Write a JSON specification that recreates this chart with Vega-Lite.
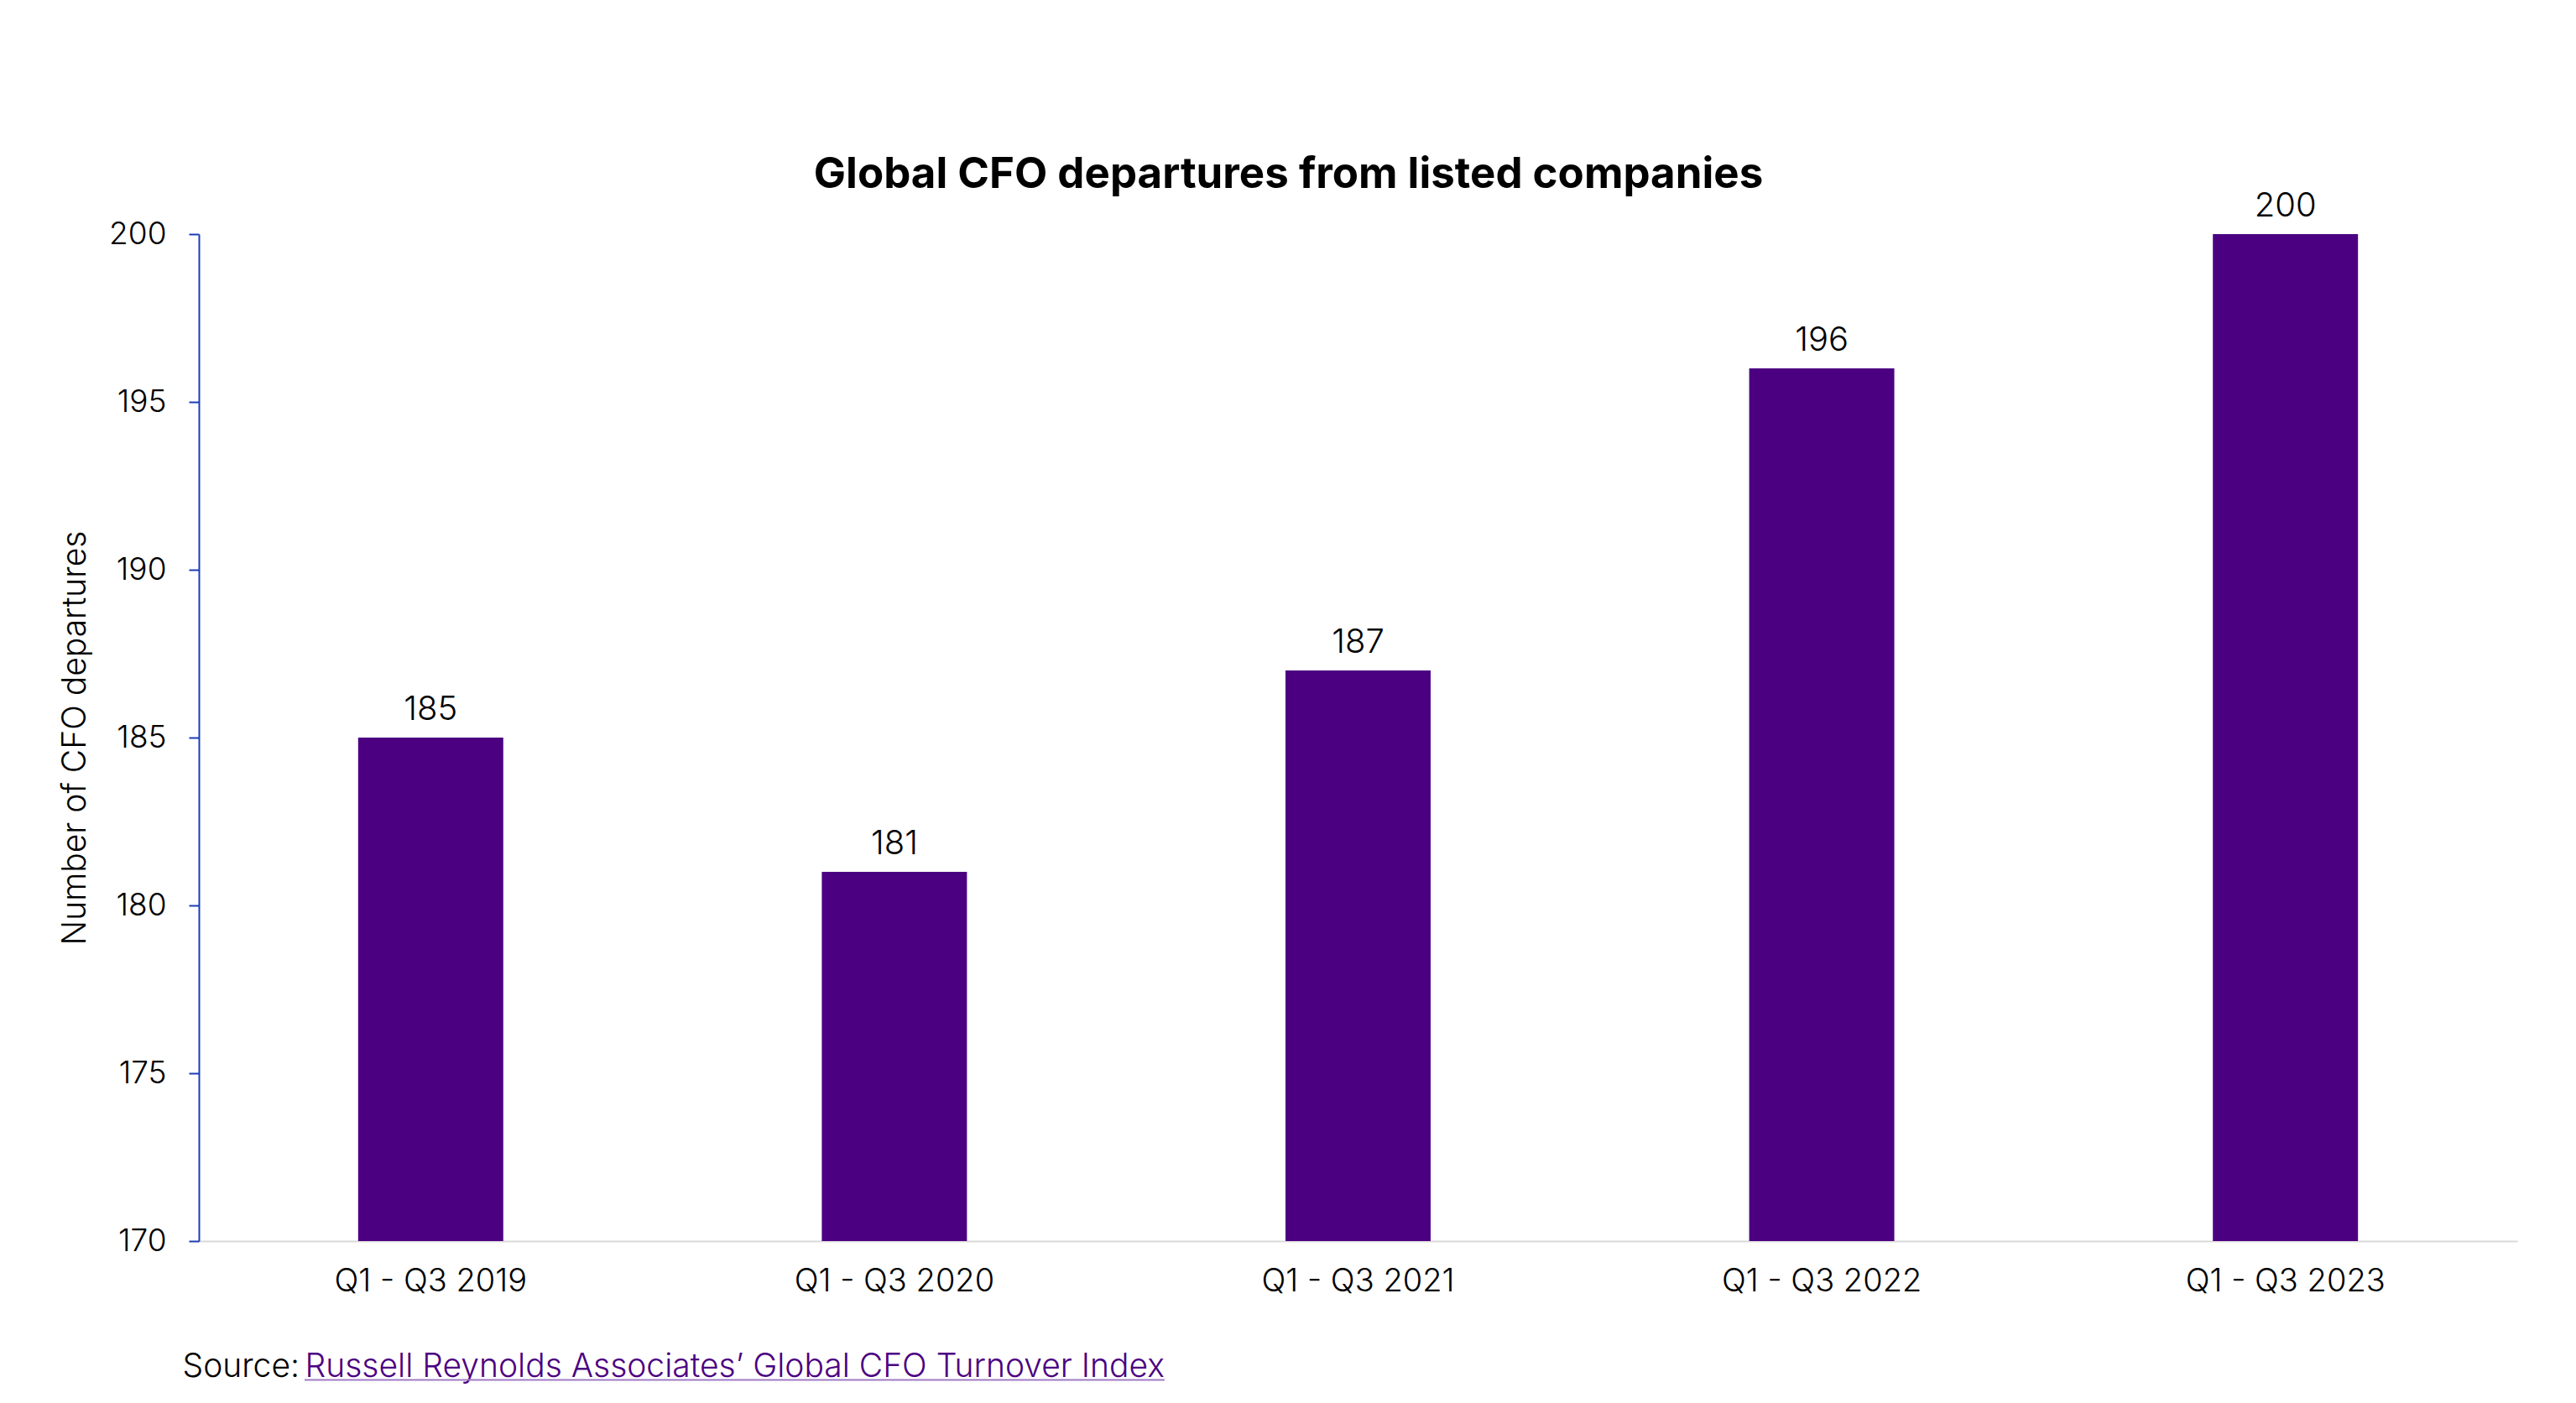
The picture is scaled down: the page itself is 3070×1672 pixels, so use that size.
{
  "$schema": "https://vega.github.io/schema/vega-lite/v6.json",
  "autosize": {"type": "none"},
  "padding": {"left": 237, "top": 279, "right": 70, "bottom": 193},
  "width": 2763,
  "height": 1200,
  "background": "white",
  "title": {
    "text": "Global CFO departures from listed companies",
    "font": "Inter",
    "fontSize": 51,
    "fontWeight": "bold",
    "color": "#000000",
    "anchor": "middle",
    "baseline": "alphabetic",
    "offset": 52,
    "dy": 101,
    "dx": -83
  },
  "config": {
    "view": {"stroke": null},
    "font": "Inter",
    "text": {"font": "Inter"}
  },
  "data": {
    "values": [
      {"period": "Q1 - Q3 2019", "departures": 185},
      {"period": "Q1 - Q3 2020", "departures": 181},
      {"period": "Q1 - Q3 2021", "departures": 187},
      {"period": "Q1 - Q3 2022", "departures": 196},
      {"period": "Q1 - Q3 2023", "departures": 200}
    ]
  },
  "layer": [
    {
      "mark": {"type": "bar", "color": "#4b0082", "clip": true},
      "encoding": {
        "x": {
          "field": "period",
          "type": "nominal",
          "sort": null,
          "scale": {"paddingInner": 0.687, "paddingOuter": 0.3435},
          "axis": {
            "title": null,
            "labelAngle": 0,
            "labelFont": "Inter",
            "labelFontSize": 38,
            "labelFontWeight": 300,
            "labelColor": "#000000",
            "labelPadding": 29,
            "labelLimit": 0,
            "ticks": false,
            "domainColor": "#d9d9d9",
            "domainWidth": 2,
            "grid": false
          }
        },
        "y": {
          "field": "departures",
          "type": "quantitative",
          "scale": {"domain": [170, 200], "zero": false, "nice": false},
          "axis": {
            "title": "Number of CFO departures",
            "titleFont": "Inter",
            "titleFontSize": 39,
            "titleFontWeight": 300,
            "titleColor": "#000000",
            "titlePadding": 20,
            "values": [170, 175, 180, 185, 190, 195, 200],
            "labelFont": "Inter",
            "labelFontSize": 37,
            "labelFontWeight": 300,
            "labelColor": "#000000",
            "labelPadding": 27,
            "tickSize": 12,
            "tickColor": "#1a3cb4",
            "tickWidth": 2,
            "domainColor": "#1a3cb4",
            "domainWidth": 2,
            "grid": false
          }
        }
      }
    },
    {
      "mark": {"type": "text", "baseline": "alphabetic", "dy": -21, "fontSize": 40, "fontWeight": 300, "color": "#000000"},
      "encoding": {
        "x": {"field": "period", "type": "nominal", "sort": null},
        "y": {"field": "departures", "type": "quantitative"},
        "text": {"field": "departures", "type": "quantitative"}
      }
    },
    {
      "data": {"values": [{"note": "Source:"}]},
      "mark": {"type": "text", "align": "left", "baseline": "alphabetic", "fontSize": 39, "fontWeight": 300, "color": "#000000", "dx": -1401},
      "encoding": {
        "y": {"datum": 165.95, "type": "quantitative"},
        "text": {"field": "note", "type": "nominal"}
      }
    },
    {
      "data": {"values": [{"note": "Russell Reynolds Associates’ Global CFO Turnover Index"}]},
      "mark": {"type": "text", "align": "left", "baseline": "alphabetic", "fontSize": 39, "fontWeight": 300, "color": "#4b0082", "dx": -1255},
      "encoding": {
        "y": {"datum": 165.95, "type": "quantitative"},
        "text": {"field": "note", "type": "nominal"}
      }
    },
    {
      "data": {"values": [{"note": "link"}]},
      "mark": {"type": "rule", "color": "#a07cc5", "strokeWidth": 2, "strokeDash": [0, 1612, 1025, 10000]},
      "encoding": {
        "y": {"datum": 165.86, "type": "quantitative"}
      }
    }
  ]
}
